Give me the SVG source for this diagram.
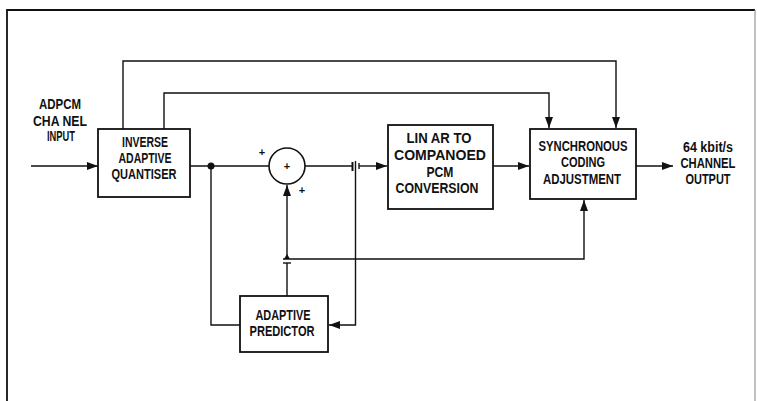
<svg xmlns="http://www.w3.org/2000/svg" width="757" height="401" viewBox="0 0 757 401">
<style>
.box{fill:#fff;stroke:#111;stroke-width:1.8}
.ln{fill:none;stroke:#111;stroke-width:1.4}
.t{font-family:"Liberation Sans",Arial,sans-serif;font-weight:bold;font-size:14px;fill:#111;text-anchor:middle}
.s{font-family:"Liberation Sans",Arial,sans-serif;font-weight:bold;font-size:11px;fill:#111;text-anchor:middle}
</style>
<defs>
<marker id="ah" viewBox="0 0 11 8" refX="11" refY="4" markerWidth="11" markerHeight="8" markerUnits="userSpaceOnUse" orient="auto">
<path d="M0,0 L11,4 L0,8 Z" fill="#111"/>
</marker>
</defs>
<rect width="757" height="401" fill="#fff"/>
<g id="frame">
<path d="M7,401 V10 H755" fill="none" stroke="#111" stroke-width="1.8"/>
<path d="M755,10 V401" fill="none" stroke="#999" stroke-width="1.2"/>
</g>
<g id="connectors">
<path class="ln" d="M31,166 H98" marker-end="url(#ah)"/>
<path class="ln" d="M123,129 V61 H616 V128" marker-end="url(#ah)"/>
<path class="ln" d="M164,129 V93 H549 V128" marker-end="url(#ah)"/>
<path class="ln" d="M190,166 H269"/>
<path class="ln" d="M305,166 H353"/>
<path class="ln" d="M352.5,162 V171" style="stroke-width:2"/>
<path class="ln" d="M355.5,161 V325 H329" marker-end="url(#ah)"/>
<path class="ln" d="M359,163 V169"/>
<path class="ln" d="M359,166 H387" marker-end="url(#ah)"/>
<path class="ln" d="M493,166 H529" marker-end="url(#ah)"/>
<path class="ln" d="M636,166 H673" marker-end="url(#ah)"/>
<path class="ln" d="M211,166 V325 H240"/>
<path class="ln" d="M287,296 V263"/>
<path class="ln" d="M283,263 H291"/>
<path d="M284,259 L287,254 L290,259 Z" fill="#111"/>
<path class="ln" d="M287,259 V185" marker-end="url(#ah)"/>
<path class="ln" d="M283,259 H584 V200" marker-end="url(#ah)"/>
<circle cx="211" cy="166" r="3.5" fill="#111"/>
</g>
<g id="input-label">
<text class="t" x="60" y="109" textLength="42" lengthAdjust="spacingAndGlyphs">ADPCM</text>
<text class="t" x="60" y="126" textLength="54" lengthAdjust="spacingAndGlyphs">CHA NEL</text>
<text class="t" x="61" y="141" textLength="28" lengthAdjust="spacingAndGlyphs">INPUT</text>
</g>
<g id="quantiser">
<rect class="box" x="98" y="129" width="92" height="68"/>
<text class="t" x="145" y="147" textLength="46" lengthAdjust="spacingAndGlyphs">INVERSE</text>
<text class="t" x="145" y="163" textLength="53" lengthAdjust="spacingAndGlyphs">ADAPTIVE</text>
<text class="t" x="144" y="179" textLength="65" lengthAdjust="spacingAndGlyphs">QUANTISER</text>
</g>
<g id="adder">
<circle cx="287" cy="166" r="18" fill="#fff" stroke="#111" stroke-width="1.6"/>
<text class="s" x="287" y="170">+</text>
<text class="s" x="262" y="156">+</text>
<text class="s" x="302" y="194">+</text>
</g>
<g id="linear-to-pcm">
<rect class="box" x="388" y="125" width="105" height="84"/>
<text class="t" x="439" y="143" textLength="65" lengthAdjust="spacingAndGlyphs">LIN AR TO</text>
<text class="t" x="440" y="160" textLength="92" lengthAdjust="spacingAndGlyphs">COMPANOED</text>
<text class="t" x="440" y="177" textLength="27" lengthAdjust="spacingAndGlyphs">PCM</text>
<text class="t" x="437" y="193" textLength="83" lengthAdjust="spacingAndGlyphs">CONVERSION</text>
</g>
<g id="sync-coding">
<rect class="box" x="530" y="129" width="106" height="70"/>
<text class="t" x="583" y="151" textLength="89" lengthAdjust="spacingAndGlyphs">SYNCHRONOUS</text>
<text class="t" x="583" y="167" textLength="44" lengthAdjust="spacingAndGlyphs">CODING</text>
<text class="t" x="582" y="184" textLength="78" lengthAdjust="spacingAndGlyphs">ADJUSTMENT</text>
</g>
<g id="output-label">
<text class="t" x="708" y="152" textLength="50" lengthAdjust="spacingAndGlyphs">64 kbit/s</text>
<text class="t" x="708" y="168" textLength="55" lengthAdjust="spacingAndGlyphs">CHANNEL</text>
<text class="t" x="708" y="184" textLength="45" lengthAdjust="spacingAndGlyphs">OUTPUT</text>
</g>
<g id="predictor">
<rect class="box" x="240" y="296" width="88" height="56"/>
<text class="t" x="283" y="320" textLength="55" lengthAdjust="spacingAndGlyphs">ADAPTIVE</text>
<text class="t" x="282" y="336" textLength="65" lengthAdjust="spacingAndGlyphs">PREDICTOR</text>
</g>
</svg>
